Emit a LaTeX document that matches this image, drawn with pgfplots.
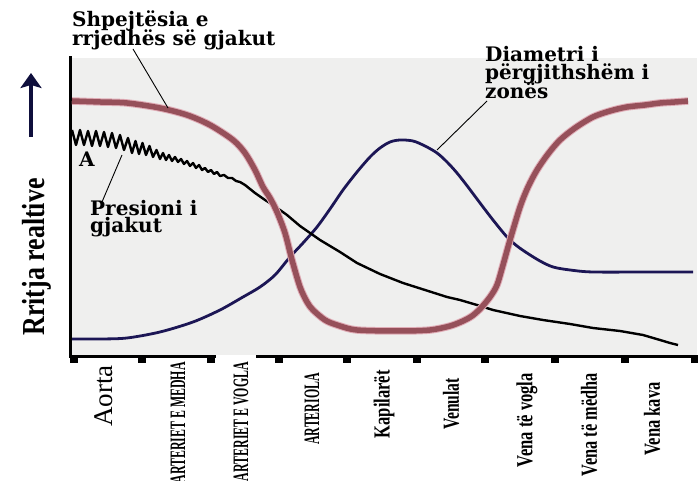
\documentclass[border=0pt]{standalone}
\usepackage{fontspec}
\setmainfont{Liberation Serif}
\newfontfamily\ann{DejaVu Serif}
\usepackage{graphicx}
\usepackage{pgfplots}
\usepackage{pgfplotstable}
\pgfplotsset{compat=1.18}
\usetikzlibrary{arrows.meta}
\definecolor{bg}{RGB}{239,239,238}
\definecolor{vel}{RGB}{150,80,90}
\definecolor{velhalo}{RGB}{224,172,182}
\definecolor{navy}{RGB}{28,22,85}
\definecolor{arr}{RGB}{15,15,60}
\newcommand{\tl}[4]{\fontsize{#1bp}{#1bp}\selectfont\scalebox{#2}[1]{#3}\kern#4bp}

% velocity of blood flow
\pgfplotstableread{
x y
72 380
100 379
127 378
160 373
187 366
210 356
233 341
245 328
255 311
263 294
270 283
277 269
285 248
292 221
300 194
307 179
313 171
325 161
337 156
357 151
400 150
430 151
450 155
463 160
472 165
480 172
490 184
497 196
503 216
510 241
520 274
528 294
537 311
548 327
560 341
575 353
593 364
610 370
627 374
645 376
660 378
675 379
688 380
}\velocity

% total diameter of the zone
\pgfplotstableread{
x y
72 142
100 142
127 143
160 149
193 159
220 171
243 184
260 194
275 206
290 224
303 238
317 254
330 272
343 291
357 309
370 324
380 333
390 339
400 341
413 340
425 335
437 328
447 319
457 308
468 294
480 278
493 261
507 244
517 235
527 228
540 220
553 214
570 211
593 209
650 209
693 209
}\diameter

% blood pressure
\pgfplotstableread{
x y
72 351
76 336
80 351
84 336
88 350
92 335
96 350
100 335
104 349
108 334
112 348
116 333
120 346
124 331
128 343
132 328
135.5 340
139 327
142.5 338
146 326
149.5 335
153 324
156.5 331
160 322
163 328
166 321
169 326
172 320
175 324
178 319
181 322
184 317
187 320
190 315
193 318
196 313
199 316
202 311
205 313
208 309
211 311
214 307
217 309
220 305
224 306
228 303
232 303
236 300
240 299
245 296
255 288
265 281
273 276
287 266
300 255
320 241
340 229
357 218
380 207
403 198
425 191
447 184
460 181
477 176
493 171
520 165
543 161
570 157
593 153
620 150
643 146
660 141
670 138
678 136
}\pressure

\begin{document}
\begin{tikzpicture}[x=1bp,y=1bp]
\useasboundingbox (0,0) rectangle (698,481);
\begin{axis}[
  at={(70,124)}, anchor=south west,
  width=627bp, height=299bp, scale only axis,
  xmin=70, xmax=697, ymin=124, ymax=423,
  axis lines*=left,
  axis line style={line width=3bp, black, line cap=rect},
  axis background/.style={fill=bg},
  ytick=\empty,
  xtick={104,178,241,312,384,451,527,589,652},
  xticklabels={
    {\tl{27}{1}{Aorta}{3}},
    {\bfseries\tl{22}{0.54}{ARTERIET E MEDHA}{0}},
    {\bfseries\tl{22}{0.54}{ARTERIET E VOGLA}{0}},
    {\bfseries\tl{22}{0.54}{ARTERIOLA}{11}},
    {\bfseries\tl{23}{0.72}{Kapilarët}{8}},
    {\bfseries\tl{23}{0.68}{Venulat}{16}},
    {\bfseries\tl{23}{0.72}{Vena të vogla}{11}},
    {\bfseries\tl{23}{0.71}{Vena të mëdha}{11}},
    {\bfseries\tl{23}{0.72}{Vena kava}{20}}},
  major tick length=0pt,
  minor xtick={74,142,211,279,347,417,485,555,625,695},
  minor tick length=6bp,
  minor tick style={line width=8bp, black},
  tick align=outside,
  xticklabel style={rotate=90, anchor=east, inner sep=0pt},
  xticklabel shift=5bp,
]
\addplot[navy, line width=2.8bp, smooth, tension=0.5] table {\diameter};
\addplot[black, line width=2.4bp, line join=round] table {\pressure};
\addplot[velhalo, line width=7.5bp, smooth, tension=0.5] table {\velocity};
\addplot[vel, line width=5.5bp, smooth, tension=0.5] table {\velocity};
\end{axis}
% gap in the bottom axis line
\fill[white] (216,120.5) rectangle (256,125.6);
% y label and arrow
\node[rotate=90, anchor=base, inner sep=0pt, font={\bfseries\fontsize{32bp}{32bp}\selectfont}] at (44,224) {\scalebox{0.81}[1]{Rritja realtive}};
\draw[arr, line width=4bp, -{Stealth[width=21bp,length=15bp,inset=3bp]}] (31,344) -- (31,408);
% annotations
\begin{scope}[every node/.style={anchor=base west, inner sep=0pt, font={\ann\bfseries\fontsize{20bp}{20bp}\selectfont}}]
\node at (72,454) {Shpejtësia e};
\node at (72,435) {rrjedhës së gjakut};
\node at (485,419) {Diametri i};
\node at (485,401) {përgjithshëm i};
\node at (485,382) {zonës};
\node at (90,265) {Presioni i};
\node at (90,248) {gjakut};
\node at (79,314) {A};
\end{scope}
\draw[black, line width=0.9bp] (133,432) -- (168,373);
\draw[black, line width=0.9bp] (487,380) -- (437,331);
\draw[black, line width=0.9bp] (102,279) -- (122,326);
\end{tikzpicture}
\end{document}
